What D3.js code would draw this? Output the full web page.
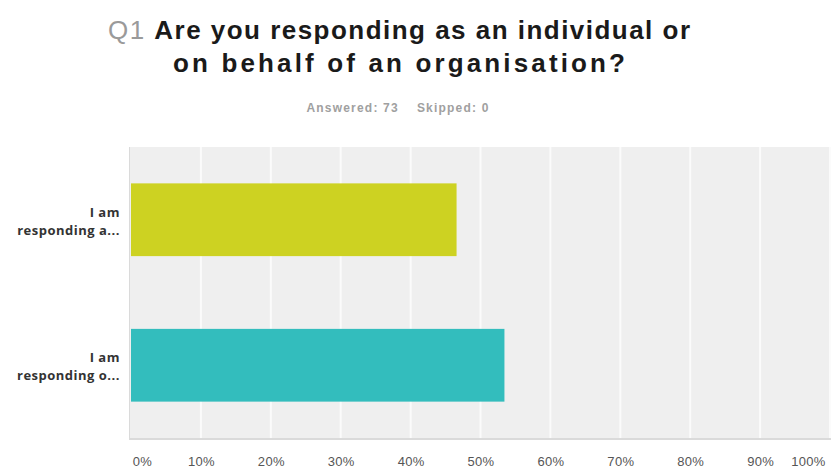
<!DOCTYPE html>
<html>
<head>
<meta charset="utf-8">
<script src="https://cdn.jsdelivr.net/npm/d3@7"></script>
<style>
  html, body { margin: 0; padding: 0; background: #ffffff; }
  svg { display: block; }
</style>
</head>
<body>
<svg id="chart" width="831" height="470"></svg>
<script>
// Survey question, answer counts and axis labels
const questionNumber = "Q1";
const titleLines = ["Are you responding as an individual or", "on behalf of an organisation?"];
const answeredCount = 73;
const skippedCount = 0;
const categories = ["I am|responding a...", "I am|responding o..."];
const responseCounts = [34, 39];
const barColors = ["#cdd222", "#33bdbd"];
const tickValues = [0, 0.1, 0.2, 0.3, 0.4, 0.5, 0.6, 0.7, 0.8, 0.9, 1];
const tickLabels = ["0%", "10%", "20%", "30%", "40%", "50%", "60%", "70%", "80%", "90%", "100%"];

const shares = responseCounts.map(c => c / answeredCount);

const svg = d3.select("#chart");
const plot = { left: 130, top: 147, right: 831, bottom: 438 };

// Title, spread over the width of the header
const title = svg.append("text")
  .attr("x", 399).attr("y", 39)
  .attr("text-anchor", "middle")
  .attr("textLength", 582)
  .attr("lengthAdjust", "spacing")
  .style("font-family", "'Liberation Sans', Arial, sans-serif")
  .style("font-size", "26px")
  .style("font-weight", "bold")
  .style("fill", "#1a1a1a");
title.append("tspan").text(questionNumber + " ")
  .style("fill", "#9a9a9a").style("font-weight", "normal");
title.append("tspan").text(titleLines[0]);
svg.append("text")
  .attr("x", 399).attr("y", 72)
  .attr("text-anchor", "middle")
  .attr("textLength", 452)
  .attr("lengthAdjust", "spacing")
  .style("font-family", "'Liberation Sans', Arial, sans-serif")
  .style("font-size", "26px")
  .style("font-weight", "bold")
  .style("fill", "#1a1a1a")
  .text(titleLines[1]);

// Answered / skipped line
const sub = svg.append("text")
  .attr("x", 398).attr("y", 112)
  .attr("text-anchor", "middle")
  .style("font-family", "'Liberation Sans', Arial, sans-serif")
  .style("font-size", "12px")
  .style("font-weight", "bold")
  .style("letter-spacing", "1.2px")
  .style("fill", "#a0a0a0");
sub.append("tspan").text("Answered: " + answeredCount);
sub.append("tspan").attr("dx", 18).text("Skipped: " + skippedCount);

// Scales
const x = d3.scaleLinear().domain([0, 1]).range([131, 830]);
const y = d3.scaleBand().domain(categories)
  .range([plot.top, plot.bottom])
  .paddingInner(0.5).paddingOuter(0.25);

// Plot background with soft edges
svg.append("rect")
  .attr("x", plot.left - 1).attr("y", plot.top)
  .attr("width", plot.right - plot.left + 1).attr("height", plot.bottom - plot.top + 2)
  .attr("fill", "#dadada");
svg.append("rect")
  .attr("x", plot.left).attr("y", plot.top)
  .attr("width", plot.right - plot.left).attr("height", plot.bottom - plot.top)
  .attr("fill", "#efefef");

// Vertical gridlines
svg.append("g")
  .selectAll("line")
  .data(tickValues.slice(1))
  .join("line")
  .attr("x1", d => x(d)).attr("x2", d => x(d))
  .attr("y1", plot.top).attr("y2", plot.bottom)
  .attr("stroke", "#fbfbfb")
  .attr("stroke-width", 2);

// Bars
svg.append("g")
  .selectAll("rect")
  .data(categories)
  .join("rect")
  .attr("x", x(0))
  .attr("y", d => y(d))
  .attr("width", (d, i) => x(shares[i]) - x(0))
  .attr("height", y.bandwidth())
  .attr("fill", (d, i) => barColors[i]);

// Category labels (two lines each)
const catLabels = svg.append("g")
  .selectAll("text")
  .data(categories)
  .join("text")
  .attr("text-anchor", "end")
  .style("font-family", "'Open Sans', sans-serif")
  .style("font-size", "13px")
  .style("font-weight", "bold")
  .style("letter-spacing", "0.5px")
  .style("fill", "#333333");
catLabels.each(function(d) {
  const parts = d.split("|");
  const cy = y(d) + y.bandwidth() / 2;
  const t = d3.select(this);
  t.append("tspan").attr("x", 120).attr("y", cy - 3).text(parts[0]);
  t.append("tspan").attr("x", 120).attr("y", cy + 15).text(parts[1]);
});

// X axis labels
const xAxis = d3.axisBottom(x)
  .tickValues(tickValues)
  .tickFormat((d, i) => tickLabels[i])
  .tickSize(0)
  .tickPadding(0);
const axisG = svg.append("g")
  .attr("transform", "translate(0,457)")
  .call(xAxis);
axisG.select(".domain").remove();
axisG.selectAll("text")
  .style("font-family", "'Liberation Sans', Arial, sans-serif")
  .style("font-size", "13px")
  .style("letter-spacing", "0.3px")
  .style("fill", "#555555")
  .attr("dx", d => d === 0 ? 11 : (d === 1 ? -22 : 0));
</script>
</body>
</html>
